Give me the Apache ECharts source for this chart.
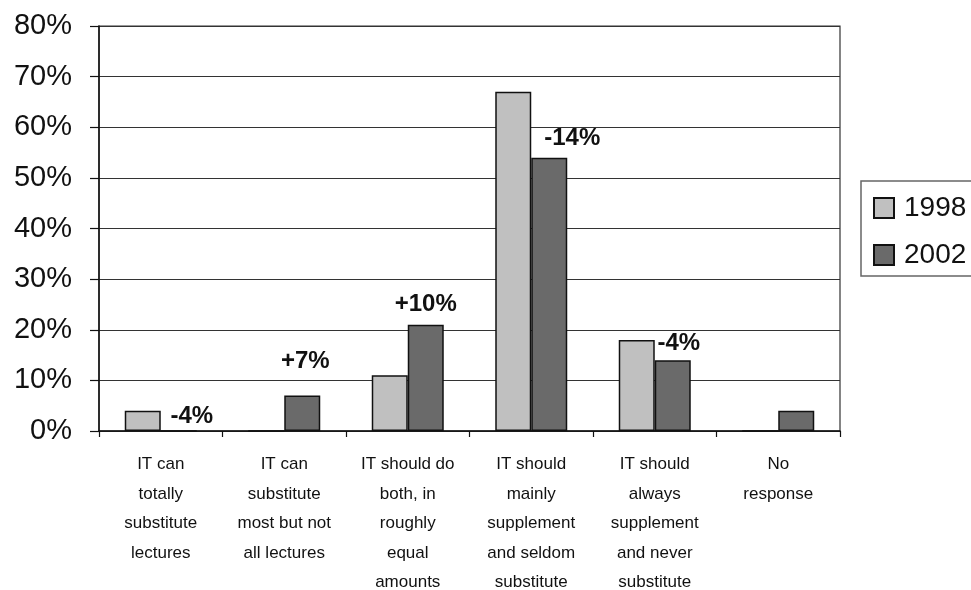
<!DOCTYPE html>
<html>
<head>
<meta charset="utf-8">
<script src="https://cdn.jsdelivr.net/npm/echarts@6/dist/echarts.min.js"></script>
<style>
html,body{margin:0;padding:0;background:#fff;}
#chart{width:971px;height:590px;}
</style>
</head>
<body>
<div id="chart"></div>
<script>
var categories = [
  "IT can\ntotally\nsubstitute\nlectures",
  "IT can\nsubstitute\nmost but not\nall lectures",
  "IT should do\nboth, in\nroughly\nequal\namounts",
  "IT should\nmainly\nsupplement\nand seldom\nsubstitute",
  "IT should\nalways\nsupplement\nand never\nsubstitute",
  "No\nresponse"
];
var values1998 = [4, 0, 11, 67, 18, 0];
var values2002 = [0, 7, 21, 54, 14, 4];
var changeLabels = ["-4%", "+7%", "+10%", "-14%", "-4%", ""];
var yTicks = [0, 10, 20, 30, 40, 50, 60, 70, 80];

// label nudges (styling only)
var labelOffsets = [[13, 3], [3, -17], [0, -3], [23, -2], [6, 0], [0, 0]];

var chart = echarts.init(document.getElementById('chart'));
var data2002 = values2002.map(function (v, i) {
  return {
    value: v,
    label: {
      show: changeLabels[i] !== "",
      position: 'top',
      offset: labelOffsets[i],
      formatter: changeLabels[i],
      fontFamily: 'Liberation Sans, Arial, sans-serif',
      fontWeight: 'bold',
      fontSize: 24,
      color: '#111'
    }
  };
});

chart.setOption({
  animation: false,
  backgroundColor: '#fff',
  grid: {
    left: 99, right: 131, top: 26, bottom: 159,
    outerBoundsMode: 'none',
    containLabel: false,
    show: true, borderColor: '#333', borderWidth: 1.2, backgroundColor: 'transparent'
  },
  legend: {
    orient: 'vertical',
    left: 861, top: 181,
    itemWidth: 20, itemHeight: 20, itemGap: 19,
    padding: [13, 30, 7, 12],
    borderColor: '#666', borderWidth: 1.5,
    icon: 'rect',
    textStyle: { fontFamily: 'Liberation Sans, Arial, sans-serif', fontSize: 28, color: '#111', padding: [0, 0, 0, 5] },
    data: ['1998', '2002']
  },
  xAxis: {
    type: 'category',
    data: categories,
    axisLine: { lineStyle: { color: '#111', width: 1.5 } },
    axisTick: { show: true, length: 6, lineStyle: { color: '#111', width: 1.2 } },
    axisLabel: {
      interval: 0,
      margin: 19,
      fontFamily: 'Liberation Sans, Arial, sans-serif',
      fontSize: 17,
      lineHeight: 29.5,
      color: '#111',
      align: 'center'
    }
  },
  yAxis: {
    type: 'value',
    min: yTicks[0], max: yTicks[yTicks.length - 1], interval: yTicks[1] - yTicks[0],
    axisLine: { show: true, lineStyle: { color: '#111', width: 1.5 } },
    axisTick: { show: true, length: 9, lineStyle: { color: '#111', width: 1.2 } },
    splitLine: { show: true, lineStyle: { color: '#333', width: 1.2 } },
    axisLabel: {
      formatter: '{value}%',
      margin: 27,
      fontFamily: 'Liberation Sans, Arial, sans-serif',
      fontSize: 29,
      color: '#111'
    }
  },
  series: [
    {
      name: '1998', type: 'bar', barWidth: 36, barGap: '0%',
      data: values1998,
      itemStyle: { color: '#c0c0c0', borderColor: '#111', borderWidth: 1.5 }
    },
    {
      name: '2002', type: 'bar', barWidth: 36, barGap: '0%',
      data: data2002,
      itemStyle: { color: '#6a6a6a', borderColor: '#111', borderWidth: 1.5 }
    }
  ]
});
</script>
</body>
</html>
